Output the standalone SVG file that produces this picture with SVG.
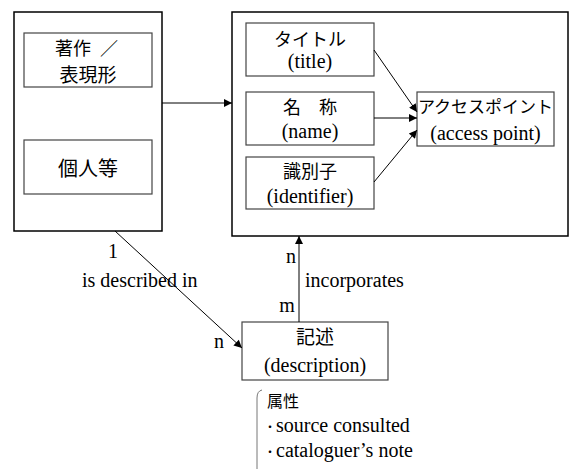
<svg xmlns="http://www.w3.org/2000/svg" width="570" height="469" viewBox="0 0 570 469">
<style>
.outer{fill:#fff;stroke:#000;stroke-width:1.5}
.inner{fill:#fff;stroke:#444;stroke-width:1.2}
.jp{font-family:'Noto Sans CJK JP','Noto Sans',sans-serif;fill:#000}
.en{font-family:'Liberation Serif','DejaVu Serif',serif;font-size:20px;fill:#000}
.c{text-anchor:middle}
.conn line{stroke:#000;stroke-width:1}
</style>
<defs>
<marker id="ah" viewBox="0 0 10 10" refX="10" refY="5" markerWidth="10" markerHeight="8" markerUnits="userSpaceOnUse" orient="auto">
<path d="M0,0 L10,5 L0,10 z" fill="#000"/>
</marker>
</defs>
<rect width="570" height="469" fill="#fff"/>
<g id="left-group">
<rect class="outer" x="14" y="12" width="148" height="219"/>
</g>
<g id="work">
<rect class="inner" x="24" y="33" width="128" height="54"/>
<text class="jp" x="55" y="55" font-size="18">著作<tspan x="100">／</tspan></text>
<text class="jp c" x="88" y="82" font-size="19">表現形</text>
</g>
<g id="person">
<rect class="inner" x="24" y="140" width="128" height="54"/>
<text class="jp c" x="88" y="176" font-size="20">個人等</text>
</g>
<g id="right-group">
<rect class="outer" x="232" y="12" width="336" height="224"/>
</g>
<g id="title">
<rect class="inner" x="246" y="23" width="128" height="53"/>
<text class="jp c" x="310" y="46" font-size="18">タイトル</text>
<text class="en c" x="310" y="68">(title)</text>
</g>
<g id="name">
<rect class="inner" x="246" y="92" width="128" height="53"/>
<text class="jp c" x="310" y="114" font-size="18">名　称</text>
<text class="en c" x="310" y="138">(name)</text>
</g>
<g id="identifier">
<rect class="inner" x="246" y="157" width="128" height="52"/>
<text class="jp c" x="310" y="178" font-size="18">識別子</text>
<text class="en c" x="310" y="203">(identifier)</text>
</g>
<g id="access-point">
<rect class="inner" x="417" y="92" width="137" height="54"/>
<text class="jp c" x="485.5" y="113" font-size="17">アクセスポイント</text>
<text class="en c" x="485.5" y="140">(access point)</text>
</g>
<g id="description">
<rect class="inner" x="242" y="322" width="146" height="58"/>
<text class="jp c" x="315" y="344" font-size="19">記述</text>
<text class="en c" x="315" y="372">(description)</text>
</g>
<g id="attributes">
<path d="M262,390 Q257,391 257,398 L257,469" fill="none" stroke="#777" stroke-width="1"/>
<text class="jp" x="267" y="407" font-size="16">属性</text>
<text class="en" x="264" y="432"><tspan font-family="Noto Sans CJK JP, sans-serif" font-size="12">・</tspan>source consulted</text>
<text class="en" x="264" y="457"><tspan font-family="Noto Sans CJK JP, sans-serif" font-size="12">・</tspan>cataloguer’s note</text>
</g>
<g id="connectors" class="conn">
<line x1="162" y1="103" x2="232" y2="103" marker-end="url(#ah)"/>
<line x1="374" y1="50" x2="417" y2="112" marker-end="url(#ah)"/>
<line x1="374" y1="118" x2="417" y2="118" marker-end="url(#ah)"/>
<line x1="374" y1="182" x2="417" y2="130" marker-end="url(#ah)"/>
<line x1="115" y1="231" x2="242" y2="348" marker-end="url(#ah)"/>
<line x1="299" y1="322" x2="299" y2="236" marker-end="url(#ah)"/>
</g>
<g id="labels">
<text class="en c" x="113" y="258">1</text>
<text class="en" x="82" y="287">is described in</text>
<text class="en c" x="219" y="348">n</text>
<text class="en c" x="291" y="263">n</text>
<text class="en c" x="287" y="312">m</text>
<text class="en" x="305" y="287">incorporates</text>
</g>
</svg>
